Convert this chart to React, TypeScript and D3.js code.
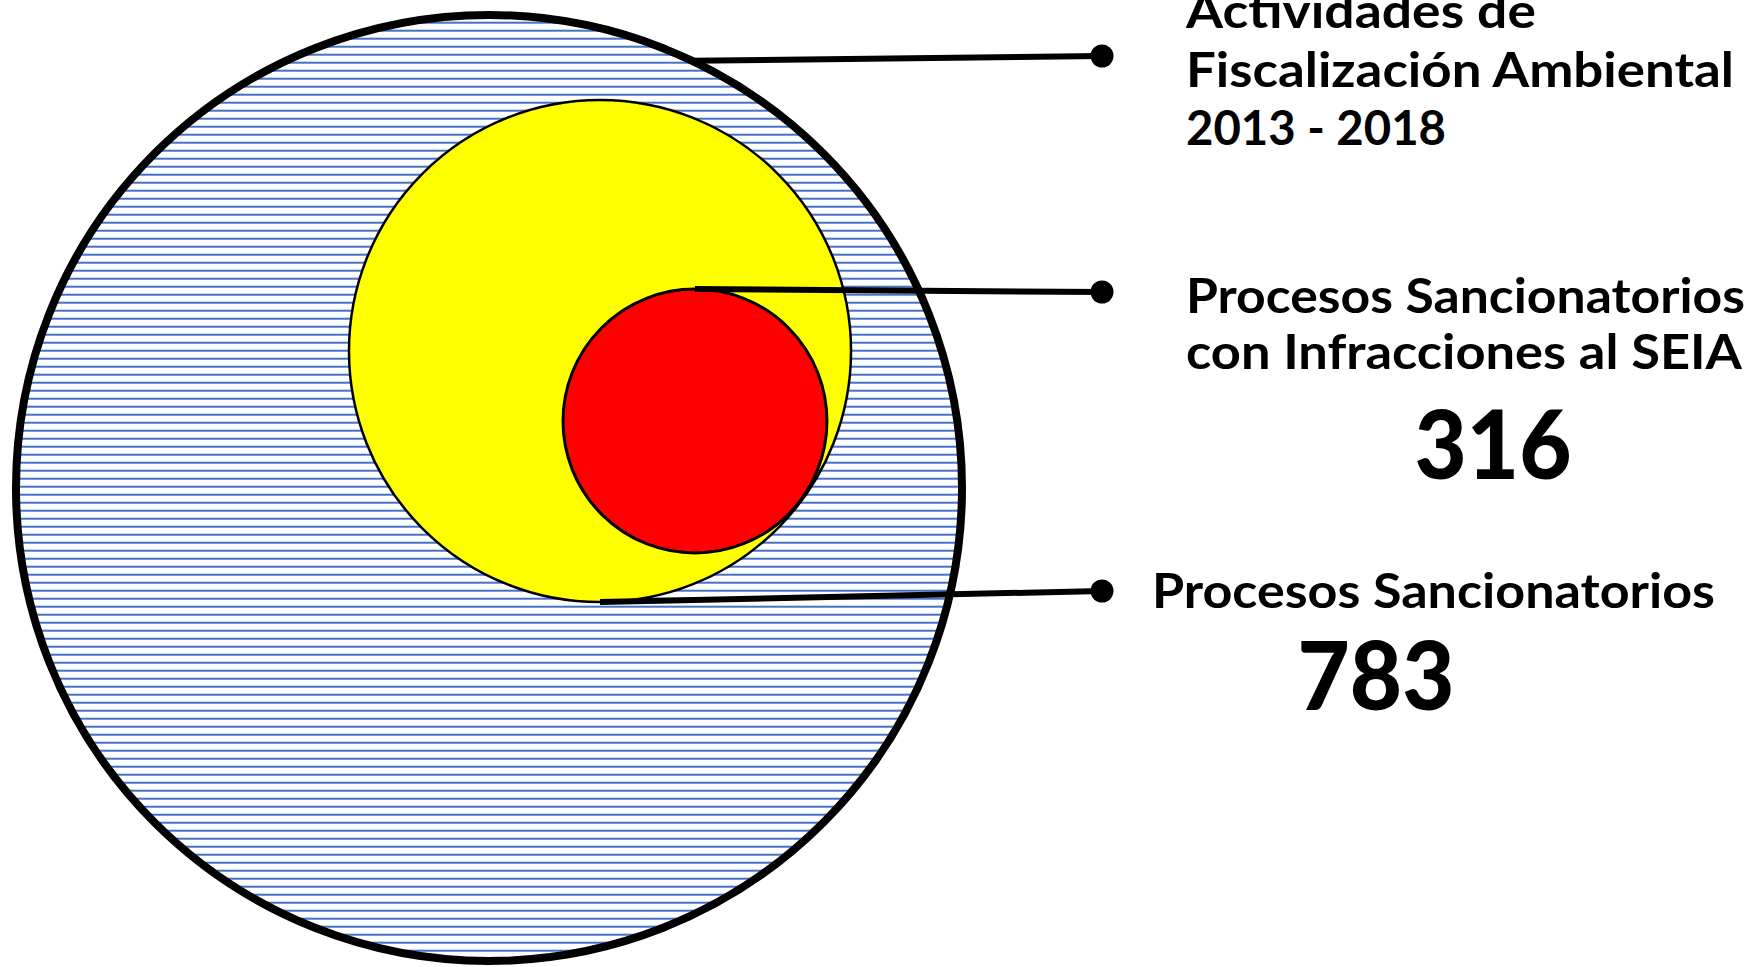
import React from "react";
import * as d3 from "d3";

// ---- data ----
const setNames = [
  "Actividades de Fiscalización Ambiental 2013 - 2018",
  "Procesos Sancionatorios",
  "Procesos Sancionatorios con Infracciones al SEIA",
];
const labelLines = [
  ["Actividades de", "Fiscalización Ambiental", "2013 - 2018"],
  ["Procesos Sancionatorios"],
  ["Procesos Sancionatorios", "con Infracciones al SEIA"],
];
const counts: (number | null)[] = [null, 783, 316];
// relative geometry of nested circles (unit = outer radius)
const relCx = [0, 0.2347, 0.4355];
const relCy = [0, -0.2896, -0.1416];
const relR = [1, 0.5307, 0.279];

const W = 1754;
const H = 967;

export default function App() {
  const cx0 = 489;
  const cy0 = 488;
  const R = 473;
  const sx = d3.scaleLinear().domain([-1, 1]).range([cx0 - R, cx0 + R]);
  const sy = d3.scaleLinear().domain([-1, 1]).range([cy0 - R, cy0 + R]);
  const sr = d3.scaleLinear().domain([0, 1]).range([0, R]);

  const circles = setNames.map((name, i) => ({
    name,
    cx: sx(relCx[i]),
    cy: sy(relCy[i]),
    r: sr(relR[i]),
  }));

  // leader line anchors
  const ang = (-64.6 * Math.PI) / 180;
  const anchors = [
    [circles[0].cx + circles[0].r * Math.cos(ang), circles[0].cy + circles[0].r * Math.sin(ang)],
    [circles[1].cx, circles[1].cy + circles[1].r],
    [circles[2].cx, circles[2].cy - circles[2].r],
  ];
  const dotX = 1102;
  const dotY = [56, 591, 292];

  const fills = ["url(#hatch)", "#FFFF00", "#FF0000"];
  const strokeW = [8, 2.5, 3];

  const font = "Lato, 'Noto Sans', sans-serif";

  // label layout
  const textX = [1186, 1152, 1186];
  const textY0 = [28, 608, 313];
  const lineH = [58.5, 56, 56];
  const lineLen = [[350, 548, 260], [563], [559, 556]];
  const fontSize = [47, 47, 47];
  const countPos = [null, [1376, 710], [1493, 479]];

  const lineGen = d3.line();

  return (
    <svg
      width={W}
      height={H}
      style={{ position: "fixed", left: 0, top: 0, background: "#fff" }}
    >
      <defs>
        <pattern id="hatch" patternUnits="userSpaceOnUse" width={8} height={8}>
          <rect width={8} height={8} fill="#fff" />
          <rect y={5.7} width={8} height={2} fill="#4472C4" />
        </pattern>
      </defs>
      {circles.map((c, i) => (
        <circle
          key={i}
          cx={c.cx}
          cy={c.cy}
          r={c.r}
          fill={fills[i]}
          stroke="#000"
          strokeWidth={strokeW[i]}
        />
      ))}
      {anchors.map((a, i) => (
        <g key={i}>
          <path
            d={lineGen([[a[0], a[1]], [dotX, dotY[i]]]) || ""}
            stroke="#000"
            strokeWidth={6}
            fill="none"
          />
          <circle cx={dotX} cy={dotY[i]} r={11.5} fill="#000" />
        </g>
      ))}
      {labelLines.map((lines, i) => (
        <g key={i}>
          {lines.map((t, j) => (
            <text
              key={j}
              x={textX[i]}
              y={textY0[i] + j * lineH[i]}
              fontFamily={font}
              fontWeight={700}
              fontSize={fontSize[i]}
              textLength={lineLen[i][j]}
              lengthAdjust="spacingAndGlyphs"
              fill="#000"
            >
              {t}
            </text>
          ))}
          {counts[i] != null && countPos[i] && (
            <text
              x={countPos[i]![0]}
              y={countPos[i]![1]}
              textAnchor="middle"
              fontFamily={font}
              fontWeight={900}
              fontSize={96}
              textLength={157}
              lengthAdjust="spacingAndGlyphs"
              fill="#000"
            >
              {counts[i]}
            </text>
          )}
        </g>
      ))}
    </svg>
  );
}
